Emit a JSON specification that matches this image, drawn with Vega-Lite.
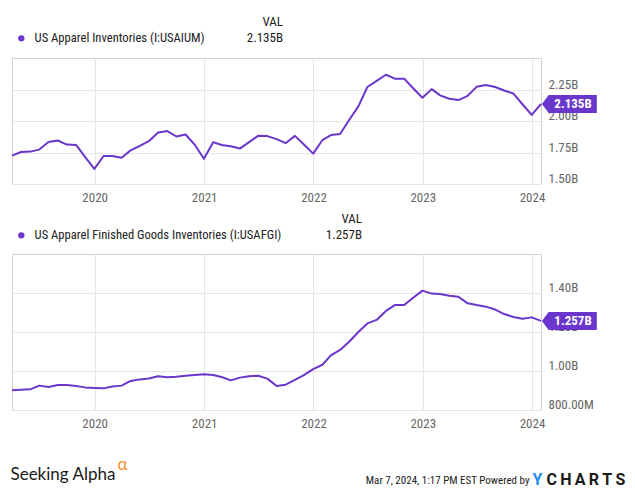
{
  "$schema": "https://vega.github.io/schema/vega-lite/v6.json",
  "padding": {"left": 9, "top": 15, "right": 0, "bottom": 0},
  "background": "white",
  "spacing": 70,
  "bounds": "flush",
  "resolve": {"scale": {"color": "independent"}, "legend": {"color": "independent"}},
  "datasets": {
    "apparel": [
      {"date": "2019-03-31", "inventory_bn": 1.725},
      {"date": "2019-04-30", "inventory_bn": 1.754},
      {"date": "2019-05-31", "inventory_bn": 1.757},
      {"date": "2019-06-30", "inventory_bn": 1.773},
      {"date": "2019-07-31", "inventory_bn": 1.834},
      {"date": "2019-08-31", "inventory_bn": 1.845},
      {"date": "2019-09-30", "inventory_bn": 1.813},
      {"date": "2019-10-31", "inventory_bn": 1.810},
      {"date": "2019-11-30", "inventory_bn": 1.716},
      {"date": "2019-12-31", "inventory_bn": 1.620},
      {"date": "2020-01-31", "inventory_bn": 1.722},
      {"date": "2020-02-29", "inventory_bn": 1.722},
      {"date": "2020-03-31", "inventory_bn": 1.709},
      {"date": "2020-04-30", "inventory_bn": 1.767},
      {"date": "2020-05-31", "inventory_bn": 1.802},
      {"date": "2020-06-30", "inventory_bn": 1.840},
      {"date": "2020-07-31", "inventory_bn": 1.909},
      {"date": "2020-08-31", "inventory_bn": 1.920},
      {"date": "2020-09-30", "inventory_bn": 1.877},
      {"date": "2020-10-31", "inventory_bn": 1.893},
      {"date": "2020-11-30", "inventory_bn": 1.813},
      {"date": "2020-12-31", "inventory_bn": 1.700},
      {"date": "2021-01-31", "inventory_bn": 1.832},
      {"date": "2021-02-28", "inventory_bn": 1.810},
      {"date": "2021-03-31", "inventory_bn": 1.799},
      {"date": "2021-04-30", "inventory_bn": 1.781},
      {"date": "2021-05-31", "inventory_bn": 1.832},
      {"date": "2021-06-30", "inventory_bn": 1.882},
      {"date": "2021-07-31", "inventory_bn": 1.880},
      {"date": "2021-08-31", "inventory_bn": 1.856},
      {"date": "2021-09-30", "inventory_bn": 1.824},
      {"date": "2021-10-31", "inventory_bn": 1.882},
      {"date": "2021-11-30", "inventory_bn": 1.813},
      {"date": "2021-12-31", "inventory_bn": 1.741},
      {"date": "2022-01-31", "inventory_bn": 1.849},
      {"date": "2022-02-28", "inventory_bn": 1.888},
      {"date": "2022-03-31", "inventory_bn": 1.897},
      {"date": "2022-04-30", "inventory_bn": 2.008},
      {"date": "2022-05-31", "inventory_bn": 2.116},
      {"date": "2022-06-30", "inventory_bn": 2.270},
      {"date": "2022-07-31", "inventory_bn": 2.318},
      {"date": "2022-08-31", "inventory_bn": 2.367},
      {"date": "2022-09-30", "inventory_bn": 2.336},
      {"date": "2022-10-31", "inventory_bn": 2.336},
      {"date": "2022-11-30", "inventory_bn": 2.260},
      {"date": "2022-12-31", "inventory_bn": 2.185},
      {"date": "2023-01-31", "inventory_bn": 2.253},
      {"date": "2023-02-28", "inventory_bn": 2.203},
      {"date": "2023-03-31", "inventory_bn": 2.177},
      {"date": "2023-04-30", "inventory_bn": 2.166},
      {"date": "2023-05-31", "inventory_bn": 2.200},
      {"date": "2023-06-30", "inventory_bn": 2.271},
      {"date": "2023-07-31", "inventory_bn": 2.285},
      {"date": "2023-08-31", "inventory_bn": 2.270},
      {"date": "2023-09-30", "inventory_bn": 2.242},
      {"date": "2023-10-31", "inventory_bn": 2.218},
      {"date": "2023-11-30", "inventory_bn": 2.133},
      {"date": "2023-12-31", "inventory_bn": 2.048},
      {"date": "2024-01-31", "inventory_bn": 2.135}
    ],
    "finished": [
      {"date": "2019-03-31", "inventory_bn": 0.901},
      {"date": "2019-04-30", "inventory_bn": 0.904},
      {"date": "2019-05-31", "inventory_bn": 0.906},
      {"date": "2019-06-30", "inventory_bn": 0.925},
      {"date": "2019-07-31", "inventory_bn": 0.918},
      {"date": "2019-08-31", "inventory_bn": 0.928},
      {"date": "2019-09-30", "inventory_bn": 0.928},
      {"date": "2019-10-31", "inventory_bn": 0.923},
      {"date": "2019-11-30", "inventory_bn": 0.916},
      {"date": "2019-12-31", "inventory_bn": 0.913},
      {"date": "2020-01-31", "inventory_bn": 0.911},
      {"date": "2020-02-29", "inventory_bn": 0.921},
      {"date": "2020-03-31", "inventory_bn": 0.925},
      {"date": "2020-04-30", "inventory_bn": 0.949},
      {"date": "2020-05-31", "inventory_bn": 0.957},
      {"date": "2020-06-30", "inventory_bn": 0.962},
      {"date": "2020-07-31", "inventory_bn": 0.973},
      {"date": "2020-08-31", "inventory_bn": 0.968},
      {"date": "2020-09-30", "inventory_bn": 0.971},
      {"date": "2020-10-31", "inventory_bn": 0.976},
      {"date": "2020-11-30", "inventory_bn": 0.979},
      {"date": "2020-12-31", "inventory_bn": 0.983},
      {"date": "2021-01-31", "inventory_bn": 0.979},
      {"date": "2021-02-28", "inventory_bn": 0.969},
      {"date": "2021-03-31", "inventory_bn": 0.952},
      {"date": "2021-04-30", "inventory_bn": 0.966},
      {"date": "2021-05-31", "inventory_bn": 0.973},
      {"date": "2021-06-30", "inventory_bn": 0.976},
      {"date": "2021-07-31", "inventory_bn": 0.961},
      {"date": "2021-08-31", "inventory_bn": 0.923},
      {"date": "2021-09-30", "inventory_bn": 0.930},
      {"date": "2021-10-31", "inventory_bn": 0.954},
      {"date": "2021-11-30", "inventory_bn": 0.979},
      {"date": "2021-12-31", "inventory_bn": 1.010},
      {"date": "2022-01-31", "inventory_bn": 1.032},
      {"date": "2022-02-28", "inventory_bn": 1.080},
      {"date": "2022-03-31", "inventory_bn": 1.108},
      {"date": "2022-04-30", "inventory_bn": 1.150},
      {"date": "2022-05-31", "inventory_bn": 1.200},
      {"date": "2022-06-30", "inventory_bn": 1.244},
      {"date": "2022-07-31", "inventory_bn": 1.262},
      {"date": "2022-08-31", "inventory_bn": 1.308},
      {"date": "2022-09-30", "inventory_bn": 1.338},
      {"date": "2022-10-31", "inventory_bn": 1.338},
      {"date": "2022-11-30", "inventory_bn": 1.376},
      {"date": "2022-12-31", "inventory_bn": 1.412},
      {"date": "2023-01-31", "inventory_bn": 1.397},
      {"date": "2023-02-28", "inventory_bn": 1.395},
      {"date": "2023-03-31", "inventory_bn": 1.386},
      {"date": "2023-04-30", "inventory_bn": 1.381},
      {"date": "2023-05-31", "inventory_bn": 1.347},
      {"date": "2023-06-30", "inventory_bn": 1.338},
      {"date": "2023-07-31", "inventory_bn": 1.330},
      {"date": "2023-08-31", "inventory_bn": 1.315},
      {"date": "2023-09-30", "inventory_bn": 1.292},
      {"date": "2023-10-31", "inventory_bn": 1.277},
      {"date": "2023-11-30", "inventory_bn": 1.268},
      {"date": "2023-12-31", "inventory_bn": 1.275},
      {"date": "2024-01-31", "inventory_bn": 1.257}
    ]
  },
  "vconcat": [
    {
      "width": 529,
      "height": 126,
      "data": {"name": "apparel"},
      "title": {
        "text": ["VAL", "2.135B"],
        "anchor": "start",
        "frame": "group",
        "align": "right",
        "dx": 271,
        "dy": 16,
        "offset": 0,
        "fontSize": 13,
        "fontWeight": "normal",
        "color": "#222222",
        "lineHeight": 16,
        "font": "Liberation Sans Narrow, Roboto Condensed, DejaVu Sans Condensed, Roboto, sans-serif"
      },
      "layer": [
        {
          "mark": {"type": "line", "strokeWidth": 2, "strokeJoin": "round"},
          "encoding": {
            "x": {
              "field": "date",
              "type": "temporal",
              "axis": {
                "title": null,
                "format": "%Y",
                "tickCount": {"interval": "year", "step": 1},
                "grid": true,
                "ticks": false,
                "tickSize": 0,
                "domain": false,
                "labelPadding": 7,
                "labelOverlap": false,
                "labelFlush": false
              }
            },
            "y": {
              "field": "inventory_bn",
              "type": "quantitative",
              "scale": {"domain": [1.5, 2.5], "nice": false, "zero": false},
              "axis": {
                "orient": "right",
                "title": null,
                "values": [1.5, 1.75, 2.0, 2.25],
                "labelExpr": "format(datum.value, '.2f') + 'B'",
                "grid": true,
                "ticks": false,
                "tickSize": 0,
                "domain": false,
                "labelPadding": 7,
                "labelBaseline": "alphabetic",
                "labelOffset": -1.5
              }
            },
            "color": {
              "datum": "US Apparel Inventories (I:USAIUM)",
              "scale": {"range": ["#6a36cc"]},
              "legend": {
                "orient": "top",
                "title": null,
                "padding": 3,
                "offset": 10,
                "symbolType": "circle",
                "symbolSize": 40,
                "labelFontSize": 12.6,
                "labelColor": "#222222",
                "labelOffset": 7,
                "labelLimit": 400,
                "encode": {"symbols": {"update": {"fill": {"value": "#6a36cc"}, "stroke": {"value": "#6a36cc"}, "strokeWidth": {"value": 0}}}}
              }
            }
          }
        },
        {
          "transform": [{"filter": "year(datum.date) === 2024"}],
          "mark": {"type": "point", "shape": "M0.1,0L0.85,-1L6.2,-1L6.2,1L0.85,1Z", "size": 324, "filled": true, "opacity": 1, "color": "#6a36cc", "strokeWidth": 0},
          "encoding": {
            "x": {"field": "date", "type": "temporal"},
            "y": {"field": "inventory_bn", "type": "quantitative"}
          }
        },
        {
          "transform": [{"filter": "year(datum.date) === 2024"}],
          "mark": {"type": "text", "color": "white", "fontWeight": "bold", "fontSize": 13, "dx": 32, "align": "center", "baseline": "middle"},
          "encoding": {
            "x": {"field": "date", "type": "temporal"},
            "y": {"field": "inventory_bn", "type": "quantitative"},
            "text": {"value": "2.135B"}
          }
        }
      ]
    },
    {
      "width": 529,
      "height": 156,
      "data": {"name": "finished"},
      "title": {
        "text": ["VAL", "1.257B"],
        "anchor": "start",
        "frame": "group",
        "align": "right",
        "dx": 350,
        "dy": 16,
        "offset": 0,
        "fontSize": 13,
        "fontWeight": "normal",
        "color": "#222222",
        "lineHeight": 16,
        "font": "Liberation Sans Narrow, Roboto Condensed, DejaVu Sans Condensed, Roboto, sans-serif"
      },
      "resolve": {"axis": {"x": "independent", "y": "independent"}},
      "layer": [
        {
          "mark": {"type": "line", "strokeWidth": 2, "strokeJoin": "round"},
          "encoding": {
            "x": {
              "field": "date",
              "type": "temporal",
              "axis": {
                "orient": "bottom",
                "format": "%Y",
                "tickCount": {"interval": "year", "step": 1},
                "grid": true,
                "ticks": false,
                "tickSize": 0,
                "domain": false,
                "labelPadding": 7,
                "labelOverlap": false,
                "labelFlush": false,
                "title": "Mar 7, 2024, 1:17 PM EST Powered by",
                "titleX": 517,
                "titleY": 73,
                "titleAnchor": null,
                "titleAlign": "right",
                "titleBaseline": "alphabetic",
                "titleFontSize": 11,
                "titleFontWeight": "normal",
                "titleColor": "#222222"
              }
            },
            "y": {
              "field": "inventory_bn",
              "type": "quantitative",
              "scale": {"domain": [0.8, 1.6], "nice": false, "zero": false},
              "axis": {
                "orient": "right",
                "values": [0.8, 1.0, 1.2, 1.4],
                "labelExpr": "datum.value < 1 ? format(datum.value * 1000, '.2f') + 'M' : format(datum.value, '.2f') + 'B'",
                "grid": true,
                "ticks": false,
                "tickSize": 0,
                "domain": false,
                "labelPadding": 7,
                "labelBaseline": "alphabetic",
                "labelOffset": -1.5,
                "title": "Seeking Alpha",
                "titleX": -531,
                "titleY": 225,
                "titleAngle": 0,
                "titleAnchor": null,
                "titleAlign": "left",
                "titleBaseline": "alphabetic",
                "titleFont": "Lato",
                "titleFontSize": 17,
                "titleFontWeight": "normal",
                "titleColor": "#1a1a1a"
              }
            },
            "color": {
              "datum": "US Apparel Finished Goods Inventories (I:USAFGI)",
              "scale": {"range": ["#6a36cc"]},
              "legend": {
                "orient": "top",
                "title": null,
                "padding": 3,
                "offset": 9,
                "symbolType": "circle",
                "symbolSize": 40,
                "labelFontSize": 12.6,
                "labelColor": "#222222",
                "labelOffset": 7,
                "labelLimit": 400,
                "encode": {"symbols": {"update": {"fill": {"value": "#6a36cc"}, "stroke": {"value": "#6a36cc"}, "strokeWidth": {"value": 0}}}}
              }
            }
          }
        },
        {
          "transform": [{"filter": "year(datum.date) === 2024"}],
          "mark": {"type": "point", "shape": "M0.1,0L0.85,-1L6.2,-1L6.2,1L0.85,1Z", "size": 324, "filled": true, "opacity": 1, "color": "#6a36cc", "strokeWidth": 0},
          "encoding": {
            "x": {
              "field": "date",
              "type": "temporal",
              "axis": {
                "orient": "bottom",
                "labels": false,
                "ticks": false,
                "domain": false,
                "grid": false,
                "title": "Y",
                "titleX": 520,
                "titleY": 74,
                "titleAnchor": null,
                "titleAlign": "left",
                "titleBaseline": "alphabetic",
                "titleFont": "Roboto",
                "titleFontSize": 16,
                "titleFontWeight": "bold",
                "titleColor": "#1f8ded"
              }
            },
            "y": {
              "field": "inventory_bn",
              "type": "quantitative",
              "axis": {
                "orient": "right",
                "labels": false,
                "ticks": false,
                "domain": false,
                "grid": false,
                "title": "α",
                "titleX": -424,
                "titleY": 215,
                "titleAngle": 0,
                "titleAnchor": null,
                "titleAlign": "left",
                "titleBaseline": "alphabetic",
                "titleFont": "Lato",
                "titleFontSize": 17,
                "titleFontWeight": "normal",
                "titleColor": "#f5902a"
              }
            }
          }
        },
        {
          "transform": [{"filter": "year(datum.date) === 2024"}],
          "mark": {"type": "text", "color": "white", "fontWeight": "bold", "fontSize": 13, "dx": 32, "align": "center", "baseline": "middle"},
          "encoding": {
            "x": {
              "field": "date",
              "type": "temporal",
              "axis": {
                "orient": "bottom",
                "labels": false,
                "ticks": false,
                "domain": false,
                "grid": false,
                "title": "C\u2009H\u2009A\u2009R\u2009T\u2009S",
                "titleX": 534,
                "titleY": 74,
                "titleAnchor": null,
                "titleAlign": "left",
                "titleBaseline": "alphabetic",
                "titleFont": "Roboto",
                "titleFontSize": 16,
                "titleFontWeight": "bold",
                "titleColor": "#1a1a1a"
              }
            },
            "y": {"field": "inventory_bn", "type": "quantitative", "axis": null},
            "text": {"value": "1.257B"}
          }
        }
      ]
    }
  ],
  "config": {
    "font": "Liberation Sans Narrow, Roboto Condensed, DejaVu Sans Condensed, Roboto, sans-serif",
    "view": {"stroke": "#d2d2d2", "strokeWidth": 1},
    "axis": {
      "gridColor": "#e6e6e6",
      "gridWidth": 1,
      "labelFontSize": 13,
      "labelColor": "#666666",
      "labelFont": "Liberation Sans Narrow, Roboto Condensed, DejaVu Sans Condensed, Roboto, sans-serif",
      "titleFont": "Liberation Sans Narrow, Roboto Condensed, DejaVu Sans Condensed, Roboto, sans-serif"
    },
    "legend": {
      "labelFont": "Liberation Sans Narrow, Roboto Condensed, DejaVu Sans Condensed, Roboto, sans-serif"
    }
  }
}
